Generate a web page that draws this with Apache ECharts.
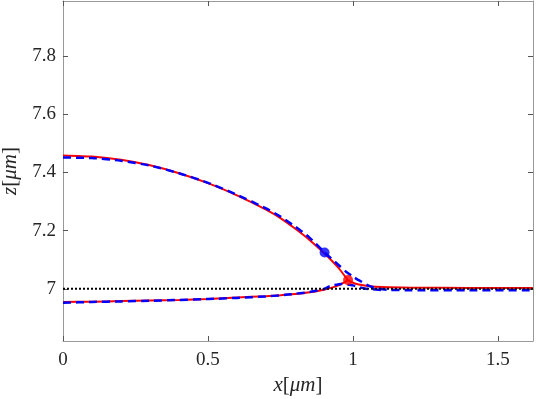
<!DOCTYPE html>
<html>
<head>
<meta charset="utf-8">
<script src="https://cdn.jsdelivr.net/npm/echarts@6/dist/echarts.min.js"></script>
<style>
    html, body { margin: 0; padding: 0; background: #fff; }
    #chart { width: 536px; height: 399px; }
</style>
</head>
<body>
<div id="chart"></div>
<script>
// 曲线数据
const redUpperX = [0, 0.1, 0.2, 0.3, 0.4, 0.5, 0.6, 0.7, 0.75, 0.8, 0.85, 0.9, 0.95, 0.983, 1.0, 1.02, 1.05, 1.1, 1.2, 1.4, 1.62];
const redUpperY = [7.458, 7.454, 7.443, 7.424, 7.397, 7.363, 7.321, 7.272, 7.243, 7.207, 7.168, 7.123, 7.072, 7.030, 7.021, 7.015, 7.010, 7.006, 7.004, 7.003, 7.003];
const redLowerX = [0, 0.1, 0.2, 0.3, 0.4, 0.5, 0.6, 0.7, 0.75, 0.8, 0.85, 0.9, 0.95, 0.983];
const redLowerY = [6.955, 6.956, 6.958, 6.960, 6.962, 6.965, 6.970, 6.975, 6.978, 6.982, 6.988, 6.997, 7.012, 7.030];
const blueUpperX = [0, 0.1, 0.2, 0.3, 0.4, 0.5, 0.6, 0.7, 0.75, 0.8, 0.85, 0.9, 0.95, 0.977, 1.0, 1.023, 1.05, 1.08, 1.12, 1.2, 1.4, 1.62];
const blueUpperY = [7.451, 7.449, 7.440, 7.423, 7.397, 7.364, 7.323, 7.276, 7.248, 7.214, 7.176, 7.127, 7.082, 7.058, 7.042, 7.028, 7.013, 7.002, 6.997, 6.995, 6.995, 6.995];
const blueLowerX = [0, 0.1, 0.2, 0.3, 0.4, 0.5, 0.6, 0.7, 0.75, 0.8, 0.85, 0.9, 0.92, 0.96, 1.0, 1.04, 1.1];
const blueLowerY = [6.952, 6.955, 6.957, 6.959, 6.962, 6.965, 6.969, 6.974, 6.978, 6.983, 6.989, 6.999, 7.009, 7.017, 7.012, 7.001, 6.996];
const refLineX = [0, 1.62];
const refLineY = [7, 7];
const blueDot = [0.902, 7.125];
const redDot = [0.983, 7.030];
const xTicks = [0, 0.5, 1, 1.5];
const yTicks = [7, 7.2, 7.4, 7.6, 7.8];

const zip = (xs, ys) => xs.map((x, i) => [x, ys[i]]);

const FONT = 'Liberation Serif, Times New Roman, serif';
const AXIS_COLOR = '#999999';
const TEXT_COLOR = '#262626';
const X_MIN = 0, X_MAX = 1.6207;
const Y_MIN = 6.821, Y_MAX = 7.988;

const nameRich = {
    i: { fontFamily: FONT, fontStyle: 'italic', fontSize: 21, color: TEXT_COLOR },
    n: { fontFamily: FONT, fontSize: 21, color: TEXT_COLOR }
};

function makeAxis(opts) {
    return Object.assign({
        type: 'value',
        axisLine: { show: true, onZero: false, lineStyle: { color: AXIS_COLOR, width: 1 } },
        splitLine: { show: false }
    }, opts);
}

function ticks(values) {
    return { show: true, inside: true, length: 5, customValues: values, lineStyle: { color: '#555', width: 1 } };
}

const chart = echarts.init(document.getElementById('chart'));
chart.setOption({
    animation: false,
    backgroundColor: '#fff',
    grid: { left: 63, right: 3, top: 1, bottom: 58, containLabel: false, outerBoundsMode: 'none' },
    xAxis: [
        makeAxis({
            min: X_MIN, max: X_MAX, position: 'bottom',
            axisTick: ticks(xTicks),
            axisLabel: { customValues: xTicks, fontFamily: FONT, fontSize: 19, color: TEXT_COLOR, margin: 10 },
            name: '{i|x}{n|[}{i|μm}{n|]}', nameLocation: 'middle', nameGap: 30,
            nameTextStyle: { rich: nameRich }
        }),
        makeAxis({
            min: X_MIN, max: X_MAX, position: 'top',
            axisTick: ticks(xTicks),
            axisLabel: { show: false }
        })
    ],
    yAxis: [
        makeAxis({
            min: Y_MIN, max: Y_MAX, position: 'left',
            axisTick: ticks(yTicks),
            axisLabel: { customValues: yTicks, fontFamily: FONT, fontSize: 19, color: TEXT_COLOR, margin: 7 },
            name: '{i|z}{n|[}{i|μm}{n|]}', nameLocation: 'middle', nameGap: 37, nameRotate: 90,
            nameTextStyle: { rich: nameRich }
        }),
        makeAxis({
            min: Y_MIN, max: Y_MAX, position: 'right',
            axisTick: ticks(yTicks),
            axisLabel: { show: false }
        })
    ],
    series: [
        { type: 'line', data: zip(redUpperX, redUpperY), showSymbol: false, smooth: 0.2,
          lineStyle: { color: '#ff0000', width: 2 }, z: 2 },
        { type: 'line', data: zip(redLowerX, redLowerY), showSymbol: false, smooth: 0.2,
          lineStyle: { color: '#ff0000', width: 2 }, z: 2 },
        { type: 'line', data: zip(blueUpperX, blueUpperY), showSymbol: false, smooth: 0.2,
          lineStyle: { color: '#0000ff', width: 2.5, type: [8, 5] }, z: 3 },
        { type: 'line', data: zip(blueLowerX, blueLowerY), showSymbol: false, smooth: 0.2,
          lineStyle: { color: '#0000ff', width: 2.5, type: [8, 5] }, z: 3 },
        { type: 'line', data: zip(refLineX, refLineY), showSymbol: false,
          lineStyle: { color: '#000000', width: 2, type: [2, 2] }, z: 4 },
        { type: 'scatter', data: [blueDot], symbolSize: 10, itemStyle: { color: '#0000ff' }, z: 5 },
        { type: 'scatter', data: [redDot], symbolSize: 10, itemStyle: { color: '#ff0000' }, z: 5 }
    ]
});
</script>
</body>
</html>
